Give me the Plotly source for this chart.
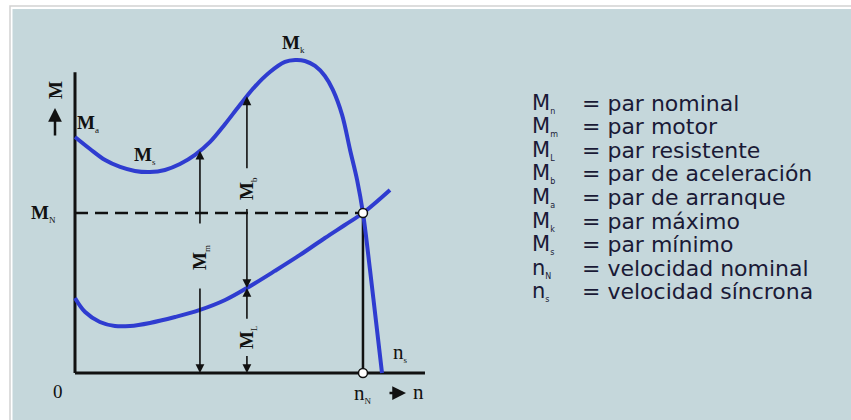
import numpy as np
import plotly.graph_objects as go

# ---------------- data (n in % of synchronous speed, M in % of nominal torque) ----------------
motor_n = [0, 4.9, 9.8, 14.7, 19.5, 24.4, 29.3, 34.2, 39.1, 44.0, 48.9, 53.7, 58.6, 63.5,
           68.4, 71.7, 74.9, 78.2, 81.4, 84.0, 87.0, 89.6, 91.9, 93.8, 96.1, 98.0, 100]
motor_M = [147.5, 140, 133.1, 128.8, 126.3, 125.6, 126.9, 130.6, 136.3, 144.4, 155.6, 167.5,
           179.0, 188.1, 194.4, 195.6, 195.0, 191.9, 185.6, 176.9, 161.3, 139.4, 120.6, 100,
           64.4, 33.1, 0]
load_n = [0, 3.3, 8.1, 13.0, 17.9, 24.4, 32.6, 40.7, 48.9, 56.0, 65.1, 73.3, 81.4, 87.9,
          93.8, 102.6]
load_M = [46.9, 38.1, 31.9, 29.4, 29.4, 31.3, 35.0, 39.4, 45.6, 53.1, 63.8, 73.8, 84.4,
          92.5, 100, 114.4]
n_nominal = 93.8
M_nominal = 100
n_sync = 100
n_arrow_m = 40.7      # position of the M_m arrow
n_arrow_b = 56.0      # position of the M_b / M_L arrows

legend_symbols = ["M<sub>n</sub>", "M<sub>m</sub>", "M<sub>L</sub>", "M<sub>b</sub>",
                  "M<sub>a</sub>", "M<sub>k</sub>", "M<sub>s</sub>", "n<sub>N</sub>",
                  "n<sub>s</sub>"]
legend_texts = ["= par nominal", "= par motor", "= par resistente", "= par de aceleración",
                "= par de arranque", "= par máximo", "= par mínimo", "= velocidad nominal",
                "= velocidad síncrona"]

# ---------------- layout constants ----------------
W, H = 851, 420
X0, SX = 75, 3.07      # pixel of n=0, pixels per n unit
Y0, SY = 373, 1.6      # pixel of M=0, pixels per M unit
AX_N_END, AX_M_END = 114, 188
BLUE = "#2f3cd0"
INK = "#111111"
SERIF = "Liberation Serif"
LEG_FONT = "DejaVu Sans"
LEG_COLOR = "#1a1a36"


def nx(px):
    return (px - X0) / SX


def my(py):
    return (Y0 - py) / SY


def sub(letter, size=9):
    return f"<sub><span style='font-size:{size}px'>{letter}</span></sub>"


fig = go.Figure()

# background frame & panel
fig.add_shape(type="rect", xref="paper", yref="paper", x0=10 / W, x1=1.01, y0=-0.01,
              y1=1 - 6 / H, line=dict(color="#d2d2d2", width=1.5), fillcolor="#ffffff",
              layer="below")
fig.add_shape(type="rect", xref="paper", yref="paper", x0=12.5 / W, x1=1.01, y0=-0.01,
              y1=1 - 9 / H, line=dict(width=0), fillcolor="#c5d7db", layer="below")

# axes lines
fig.add_trace(go.Scatter(x=[0, 0], y=[AX_M_END, 0], mode="lines",
                         line=dict(color=INK, width=3), hoverinfo="skip"))
fig.add_trace(go.Scatter(x=[0, AX_N_END], y=[0, 0], mode="lines",
                         line=dict(color=INK, width=3), hoverinfo="skip"))

# nominal dashed line and vertical line
fig.add_trace(go.Scatter(x=[0, n_nominal], y=[M_nominal, M_nominal], mode="lines",
                         line=dict(color=INK, width=2.5, dash="13px,7px"), hoverinfo="skip"))
fig.add_trace(go.Scatter(x=[n_nominal, n_nominal], y=[0, M_nominal], mode="lines",
                         line=dict(color=INK, width=2.5), hoverinfo="skip"))

# curves
fig.add_trace(go.Scatter(x=load_n, y=load_M, mode="lines", line_shape="spline",
                         line=dict(color=BLUE, width=4), hoverinfo="skip"))
fig.add_trace(go.Scatter(x=motor_n, y=motor_M, mode="lines", line_shape="spline",
                         line=dict(color=BLUE, width=4), hoverinfo="skip"))

# operating points
fig.add_trace(go.Scatter(x=[n_nominal, n_nominal], y=[M_nominal, 0], mode="markers",
                         marker=dict(size=9, color="white", line=dict(color=INK, width=1.5)),
                         hoverinfo="skip"))

# arrow helpers
Mm_top = float(np.interp(n_arrow_m, motor_n, motor_M))
Mb_top = float(np.interp(n_arrow_b, motor_n, motor_M))
Ml_top = float(np.interp(n_arrow_b, load_n, load_M))


def arrow(n, y_from, y_to, width=1.6):
    fig.add_annotation(x=n, y=y_to, ax=n, ay=y_from, xref="x", yref="y", axref="x",
                       ayref="y", text="", showarrow=True, arrowhead=2, arrowsize=1.1,
                       arrowwidth=width, arrowcolor=INK, standoff=0, startstandoff=0)


def label(n, m, text, angle=0, size=19, xanchor="center", yanchor="middle"):
    fig.add_annotation(x=n, y=m, xref="x", yref="y", text=text, showarrow=False,
                       textangle=angle, xanchor=xanchor, yanchor=yanchor,
                       font=dict(family=SERIF, size=size, color=INK))


# M_m arrow (0 -> motor curve)
arrow(n_arrow_m, 92.5, Mm_top)
arrow(n_arrow_m, 53.8, 0)
label(n_arrow_m, 72.5, "<b>M</b>" + sub("m"), angle=-90)

# M_b arrow (load curve -> motor curve)
arrow(n_arrow_b, 127, Mb_top)
arrow(n_arrow_b, 103.5, Ml_top)
label(n_arrow_b, 115.6, "<b>M</b>" + sub("b"), angle=-90)

# M_L arrow (0 -> load curve)
arrow(n_arrow_b, 33, Ml_top)
arrow(n_arrow_b, 11.5, 0)
label(n_arrow_b, 22.5, "<b>M</b>" + sub("L"), angle=-90)

# axis captions
arrow(nx(55), my(137), my(108), width=2.5)
label(nx(55), my(90), "<b>M</b>", angle=-90)
fig.add_annotation(x=nx(406), y=my(393), ax=nx(388), ay=my(393), xref="x", yref="y",
                   axref="x", ayref="y", text="", showarrow=True, arrowhead=2,
                   arrowsize=1.1, arrowwidth=2.5, arrowcolor=INK, standoff=0)
label(nx(418), my(392), "n", size=21)
label(nx(58), my(391), "0", size=19)

# point labels
label(0, motor_M[0], "<b>M</b>" + sub("a"), xanchor="left", yanchor="bottom")
label(nx(145), my(155), "<b>M</b>" + sub("s"))
label(nx(293), my(43), "<b>M</b>" + sub("k"))
label(nx(43), M_nominal, "<b>M</b>" + sub("N"))
label(n_nominal, my(393), "n" + sub("N"), size=21)
label(nx(400), my(352), "n" + sub("s"), size=21)

# legend text block
for i, (s, t) in enumerate(zip(legend_symbols, legend_texts)):
    yc = 1 - (103 + 23.6 * i) / H
    sym = s.replace("<sub>", "<sub><span style='font-size:8px'>").replace("</sub>", "</span></sub>")
    fig.add_annotation(x=530 / W, y=yc, xref="paper", yref="paper", text=sym,
                       showarrow=False, xanchor="left", yanchor="middle",
                       font=dict(family=LEG_FONT, size=21, color=LEG_COLOR))
    fig.add_annotation(x=580 / W, y=yc, xref="paper", yref="paper", text=t,
                       showarrow=False, xanchor="left", yanchor="middle",
                       font=dict(family=LEG_FONT, size=22, color=LEG_COLOR))

fig.update_layout(
    width=W, height=H, margin=dict(l=0, r=0, t=0, b=0),
    paper_bgcolor="white", plot_bgcolor="rgba(0,0,0,0)", showlegend=False,
    xaxis=dict(range=[nx(0), nx(W)], visible=False, fixedrange=True),
    yaxis=dict(range=[my(H), my(0)], visible=False, fixedrange=True),
)

fig.write_html("out.html", config={"displayModeBar": False, "staticPlot": True},
               post_script="document.body.style.margin='0px';"
                           "document.body.style.overflow='hidden';")
